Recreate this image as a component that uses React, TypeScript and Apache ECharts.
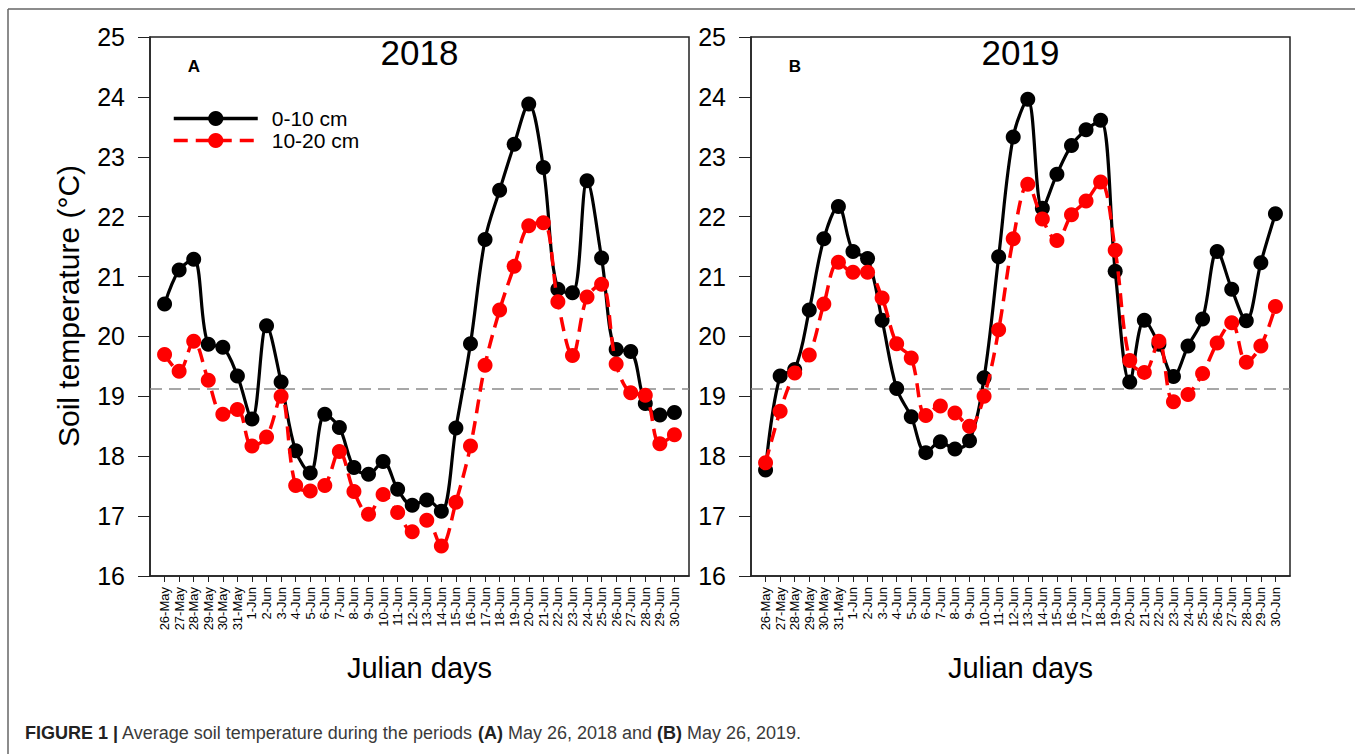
import React, { useEffect, useRef } from "react";
import * as echarts from "echarts";

const dates = [
  "26-May", "27-May", "28-May", "29-May", "30-May", "31-May",
  "1-Jun", "2-Jun", "3-Jun", "4-Jun", "5-Jun", "6-Jun", "7-Jun", "8-Jun", "9-Jun", "10-Jun",
  "11-Jun", "12-Jun", "13-Jun", "14-Jun", "15-Jun", "16-Jun", "17-Jun", "18-Jun", "19-Jun", "20-Jun",
  "21-Jun", "22-Jun", "23-Jun", "24-Jun", "25-Jun", "26-Jun", "27-Jun", "28-Jun", "29-Jun", "30-Jun",
];

const depth0to10_2018 = [20.54, 21.11, 21.29, 19.87, 19.82, 19.34, 18.62, 20.18, 19.24, 18.09, 17.72, 18.70, 18.48, 17.81, 17.70, 17.91, 17.45, 17.18, 17.27, 17.08, 18.47, 19.88, 21.62, 22.44, 23.21, 23.88, 22.82, 20.79, 20.73, 22.60, 21.31, 19.78, 19.75, 18.88, 18.69, 18.73];
const depth10to20_2018 = [19.70, 19.42, 19.92, 19.27, 18.70, 18.78, 18.17, 18.32, 19.00, 17.51, 17.42, 17.51, 18.08, 17.41, 17.03, 17.36, 17.06, 16.74, 16.93, 16.50, 17.23, 18.17, 19.52, 20.44, 21.17, 21.85, 21.90, 20.58, 19.68, 20.66, 20.87, 19.54, 19.06, 19.02, 18.21, 18.36];
const depth0to10_2019 = [17.77, 19.34, 19.45, 20.44, 21.63, 22.17, 21.42, 21.30, 20.27, 19.13, 18.66, 18.06, 18.24, 18.12, 18.26, 19.31, 21.33, 23.33, 23.96, 22.14, 22.71, 23.19, 23.45, 23.61, 21.09, 19.24, 20.27, 19.87, 19.33, 19.84, 20.29, 21.42, 20.79, 20.26, 21.23, 22.05];
const depth10to20_2019 = [17.89, 18.75, 19.39, 19.69, 20.54, 21.24, 21.07, 21.07, 20.64, 19.88, 19.64, 18.68, 18.84, 18.72, 18.50, 19.00, 20.11, 21.63, 22.54, 21.96, 21.60, 22.03, 22.26, 22.58, 21.44, 19.60, 19.40, 19.92, 18.91, 19.03, 19.38, 19.89, 20.23, 19.57, 19.84, 20.50];

const referenceLine = 19.12;
const yMin = 16;
const yMax = 25;
const seriesNames = ["0-10 cm", "10-20 cm"];
const panelTitles = ["2018", "2019"];
const panelLetters = ["A", "B"];
const xTitle = "Julian days";
const yTitle = "Soil temperature (°C)";

const FONT = "'Liberation Sans', Arial, sans-serif";

export default function App() {
  const ref = useRef<HTMLDivElement>(null);

  useEffect(() => {
    if (!ref.current) return;
    const chart = echarts.init(ref.current, null, { renderer: "svg" });

    const cats = ["", ...dates, " "];
    const pairs = (vals: number[]) => vals.map((v, i) => [dates[i], v]);

    const grids = [
      { left: 150, top: 37, width: 539, height: 539 },
      { left: 751, top: 37, width: 539, height: 539 },
    ];

    const xAxes = grids.map((_, gi) => ({
      type: "category",
      gridIndex: gi,
      data: cats,
      boundaryGap: false,
      axisLine: { show: true, lineStyle: { color: "#222", width: 1.5 } },
      axisTick: {
        show: true,
        length: 6,
        inside: false,
        lineStyle: { color: "#222", width: 1 },
        interval: (idx: number, val: string) => val.trim() !== "",
      },
      axisLabel: {
        interval: 0,
        rotate: 90,
        margin: 11,
        fontSize: 13,
        fontFamily: FONT,
        color: "#000",
      },
      splitLine: { show: false },
    }));

    const yAxes = grids.map((_, gi) => ({
      type: "value",
      gridIndex: gi,
      min: yMin,
      max: yMax,
      interval: 1,
      axisLine: { show: true, lineStyle: { color: "#222", width: 1.5 } },
      axisTick: { show: true, length: 12, inside: false, lineStyle: { color: "#222", width: 1 } },
      axisLabel: { margin: 25, fontSize: 25, fontFamily: FONT, color: "#000" },
      splitLine: { show: false },
    }));

    const blackSeries = (name: string, vals: number[], gi: number, withRef: boolean) => ({
      name,
      type: "line",
      xAxisIndex: gi,
      yAxisIndex: gi,
      data: pairs(vals),
      smooth: 0.35,
      symbol: "circle",
      symbolSize: 15,
      itemStyle: { color: "#000" },
      lineStyle: { color: "#000", width: 3.2 },
      z: 3,
      markLine: withRef
        ? {
            silent: true,
            symbol: "none",
            label: { show: false },
            lineStyle: { color: "#8a8a8a", type: [12, 7], width: 1.5 },
            data: [{ yAxis: referenceLine }],
            z: 1,
          }
        : undefined,
    });

    const redSeries = (name: string, vals: number[], gi: number) => ({
      name,
      type: "line",
      xAxisIndex: gi,
      yAxisIndex: gi,
      data: pairs(vals),
      smooth: 0.35,
      symbol: "circle",
      symbolSize: 15,
      itemStyle: { color: "#ff0000" },
      lineStyle: { color: "#ff0000", width: 3.5, type: [14, 8] },
      z: 4,
    });

    const graphics: any[] = [
      { type: "line", shape: { x1: 8, y1: 9, x2: 1355, y2: 9 }, style: { stroke: "#666", lineWidth: 1.5 } },
      { type: "line", shape: { x1: 8, y1: 9, x2: 8, y2: 754 }, style: { stroke: "#666", lineWidth: 1.5 } },
      {
        type: "text",
        x: 68,
        y: 306,
        rotation: Math.PI / 2,
        style: { text: yTitle, font: `30px ${FONT}`, fill: "#000", align: "center", verticalAlign: "middle" },
      },
      {
        type: "text",
        x: 25,
        y: 733,
        style: {
          text: "{b|FIGURE 1 |}{n| Average soil temperature during the periods }{b|(A)}{n| May 26, 2018 and }{b|(B)}{n| May 26, 2019.}",
          fontSize: 18,
          fontFamily: FONT,
          fill: "#3a3a3a",
          verticalAlign: "middle",
          rich: {
            b: { fontWeight: "bold", fontSize: 18, fontFamily: FONT, fill: "#222" },
            n: { fontSize: 18, fontFamily: FONT, fill: "#3a3a3a" },
          },
        },
      },
    ];
    grids.forEach((g, gi) => {
      const cx = g.left + g.width / 2;
      graphics.push(
        {
          type: "text",
          x: cx,
          y: 52,
          style: { text: panelTitles[gi], font: `35px ${FONT}`, fill: "#000", align: "center", verticalAlign: "middle" },
        },
        {
          type: "text",
          x: g.left + 44,
          y: 66,
          style: { text: panelLetters[gi], font: `bold 17px ${FONT}`, fill: "#000", align: "center", verticalAlign: "middle" },
        },
        {
          type: "text",
          x: cx,
          y: 668,
          style: { text: xTitle, font: `29px ${FONT}`, fill: "#000", align: "center", verticalAlign: "middle" },
        }
      );
    });

    chart.setOption({
      animation: false,
      backgroundColor: "#fff",
      grid: grids.map((g) => ({ ...g, show: true, borderColor: "#222", borderWidth: 1.5, backgroundColor: "transparent" })),
      xAxis: xAxes,
      yAxis: yAxes,
      legend: {
        data: [
          { name: seriesNames[0], lineStyle: { width: 3.5 } },
          { name: seriesNames[1], lineStyle: { width: 3.5 } },
        ],
        orient: "vertical",
        left: 167,
        top: 103,
        itemWidth: 84,
        itemHeight: 19,
        itemGap: 1,
        textStyle: { fontSize: 21, fontFamily: FONT, color: "#000", padding: [0, 0, 0, 9] },
      },
      series: [
        blackSeries(seriesNames[0], depth0to10_2018, 0, true),
        redSeries(seriesNames[1], depth10to20_2018, 0),
        blackSeries(seriesNames[0], depth0to10_2019, 1, true),
        redSeries(seriesNames[1], depth10to20_2019, 1),
      ],
      graphic: graphics,
    });

    return () => chart.dispose();
  }, []);

  return (
    <div
      ref={ref}
      style={{ position: "fixed", left: 0, top: 0, width: 1355, height: 754, background: "#fff" }}
    />
  );
}
